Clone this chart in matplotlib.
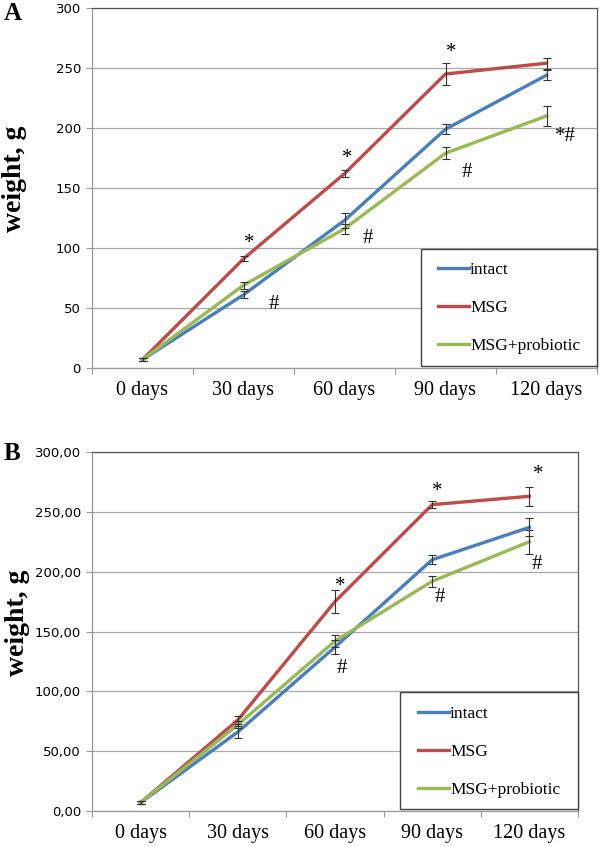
import matplotlib
matplotlib.use('Agg')
import matplotlib.pyplot as plt
from matplotlib.patches import Rectangle
from matplotlib.ticker import FuncFormatter, FixedLocator

# Data
days = ['0 days', '30 days', '60 days', '90 days', '120 days']
series = ['intact', 'MSG', 'MSG+probiotic']
colors = ['#4a7ebb', '#be4b48', '#98b954']

# Panel A
a_intact = [7, 61, 123, 199, 244]
a_msg = [7, 91, 162, 245, 254]
a_pro = [7, 69, 116, 179, 210]
a_intact_err = [1.5, 3, 6, 4, 4]
a_msg_err = [1.5, 2, 3, 9, 4.5]
a_pro_err = [1.5, 3, 4, 5, 8]
# significance marks: (x position in category units, y value, text)
a_marks_x = [1.06, 1.3, 2.03, 2.23, 3.06, 3.21, 4.19]
a_marks_y = [104, 53, 175, 108, 263, 163, 193]
a_marks_t = ['*', '#', '*', '#', '*', '#', '*#']

# Panel B
b_intact = [7, 66, 137, 210, 237]
b_msg = [7, 76, 175, 256, 263]
b_pro = [7, 72, 142, 192, 225]
b_intact_err = [1.2, 5, 6, 4, 7.5]
b_msg_err = [1.2, 3, 9.5, 3, 8]
b_pro_err = [1.2, 3, 5, 4.5, 10]
b_marks_x = [2.05, 2.07, 3.05, 3.08, 4.09, 4.08]
b_marks_y = [188, 119, 267, 178, 281, 206]
b_marks_t = ['*', '#', '*', '#', '*', '#']

serif = 'Liberation Serif'

fig = plt.figure(figsize=(6, 8.47), dpi=100)
axA = fig.add_axes([92/600, 1-368/847, (597-92)/600, 360/847])
axB = fig.add_axes([92/600, 1-811/847, (578-92)/600, 359/847])


def draw_panel(ax, vals, errs, mx, my, mt, fmt, legend_box, legend_anchor, label_y):
    x = list(range(len(days)))
    for v, e, c, name in zip(vals, errs, colors, series):
        ax.plot(x, v, color=c, linewidth=2.4, label=name, zorder=3)
        ax.errorbar(x, v, yerr=e, fmt='none', ecolor='#333333',
                    elinewidth=0.8, capsize=2.8, capthick=0.8, zorder=4)
    for xx, yy, tt in zip(mx, my, mt):
        ax.text(xx, yy, tt, fontsize=15, family=serif, ha='center',
                va='center', color='black', zorder=5)
    ax.set_xlim(-0.5, len(days) - 0.5)
    ax.set_ylim(0, 300)
    ax.set_yticks(range(0, 301, 50))
    ax.yaxis.set_major_formatter(FuncFormatter(fmt))
    ax.set_xticks(x)
    ax.set_xticklabels(days, family=serif, fontsize=14.5)
    ax.xaxis.set_minor_locator(FixedLocator([i - 0.5 for i in range(len(days) + 1)]))
    ax.tick_params(axis='x', which='major', length=0, pad=9)
    ax.tick_params(axis='x', which='minor', length=4, color='#999999', width=0.8)
    ax.tick_params(axis='y', length=4, color='#999999', width=0.8, pad=4,
                   labelsize=9.5)
    ax.grid(axis='y', color='#a8a8a8', linewidth=0.9)
    ax.set_axisbelow(True)
    for s in ['left', 'bottom']:
        ax.spines[s].set_color('#999999')
        ax.spines[s].set_linewidth(0.9)
    for s in ['top', 'right']:
        ax.spines[s].set_color('#555555')
        ax.spines[s].set_linewidth(0.9)
    ax.set_ylabel('weight, g', family=serif, fontweight='bold', fontsize=20)
    ax.yaxis.set_label_coords(-0.128, label_y)
    x0, y0, w, h = legend_box
    ax.add_patch(Rectangle((x0, y0), w, h, transform=ax.transAxes,
                           facecolor='white', edgecolor='#404040',
                           linewidth=1.0, zorder=6, clip_on=False))
    leg = ax.legend(loc='center left', bbox_to_anchor=legend_anchor,
                    frameon=False, borderpad=0, borderaxespad=0,
                    handlelength=1.8, handletextpad=0.05, labelspacing=1.25,
                    prop={'family': serif, 'size': 12.5})
    leg.set_zorder(7)


draw_panel(axA, [a_intact, a_msg, a_pro],
           [a_intact_err, a_msg_err, a_pro_err],
           a_marks_x, a_marks_y, a_marks_t,
           lambda v, p: '%d' % v,
           (0.6515, 0.0056, 0.3485, 0.325), (0.685, 0.1667), 0.525)
draw_panel(axB, [b_intact, b_msg, b_pro],
           [b_intact_err, b_msg_err, b_pro_err],
           b_marks_x, b_marks_y, b_marks_t,
           lambda v, p: ('%.2f' % v).replace('.', ','),
           (0.6337, 0.0056, 0.3663, 0.326), (0.6708, 0.1643), 0.525)

fig.text(4/600, 1-14/847, 'A', family=serif, fontweight='bold', fontsize=18,
         va='center', ha='left')
fig.text(4/600, 1-453/847, 'B', family=serif, fontweight='bold', fontsize=18,
         va='center', ha='left')

fig.savefig('out.png', dpi=100, facecolor='white')
